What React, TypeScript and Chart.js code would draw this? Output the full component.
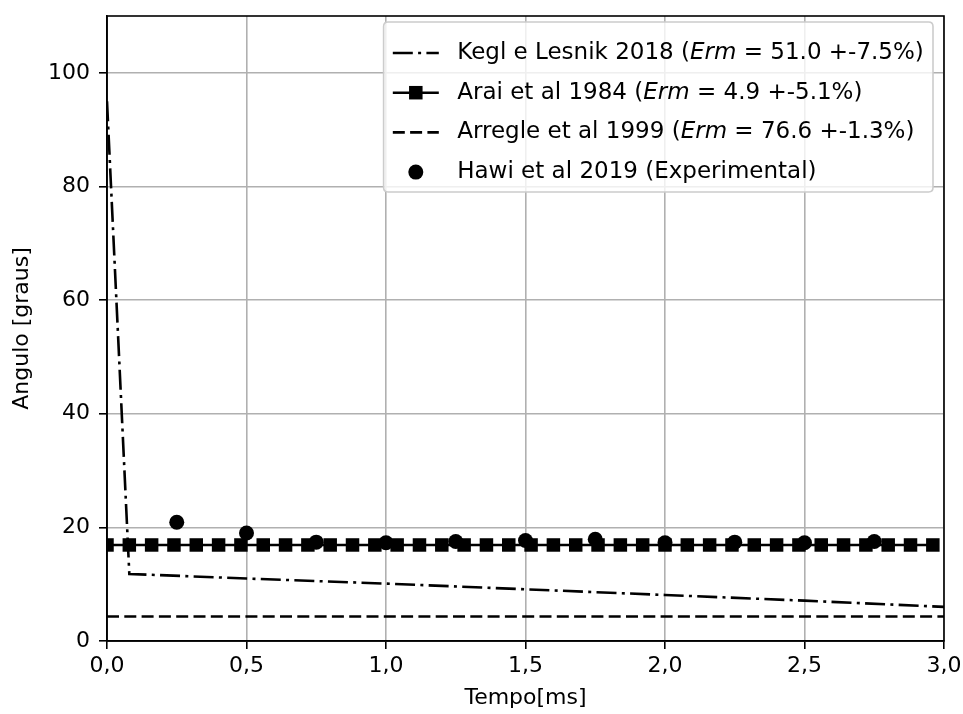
import React, { useEffect, useRef } from 'react';
import { Chart, registerables } from 'chart.js';
Chart.register(...registerables);

const keglTime = [0, 0.08, 0.5, 1.0, 1.5, 2.0, 2.5, 3.0];
const keglAngle = [95, 11.8, 11.0, 10.1, 9.1, 8.1, 7.1, 6.0];

const araiTime = [
  0, 0.08, 0.16, 0.24, 0.32, 0.4, 0.48, 0.56, 0.64, 0.72, 0.8, 0.88, 0.96,
  1.04, 1.12, 1.2, 1.28, 1.36, 1.44, 1.52, 1.6, 1.68, 1.76, 1.84, 1.92, 2.0,
  2.08, 2.16, 2.24, 2.32, 2.4, 2.48, 2.56, 2.64, 2.72, 2.8, 2.88, 2.96,
];
const araiAngle = [
  16.9, 16.9, 16.9, 16.9, 16.9, 16.9, 16.9, 16.9, 16.9, 16.9, 16.9, 16.9, 16.9,
  16.9, 16.9, 16.9, 16.9, 16.9, 16.9, 16.9, 16.9, 16.9, 16.9, 16.9, 16.9, 16.9,
  16.9, 16.9, 16.9, 16.9, 16.9, 16.9, 16.9, 16.9, 16.9, 16.9, 16.9, 16.9,
];

const arregleTime = [0, 3.0];
const arregleAngle = [4.3, 4.3];

const hawiTime = [0.25, 0.5, 0.75, 1.0, 1.25, 1.5, 1.75, 2.0, 2.25, 2.5, 2.75];
const hawiAngle = [20.9, 19.0, 17.4, 17.3, 17.5, 17.7, 17.9, 17.3, 17.4, 17.3, 17.5];

const xTickValues = [0, 0.5, 1.0, 1.5, 2.0, 2.5, 3.0];
const xTickLabels = ['0,0', '0,5', '1,0', '1,5', '2,0', '2,5', '3,0'];
const yTickValues = [0, 20, 40, 60, 80, 100];
const yTickLabels = ['0', '20', '40', '60', '80', '100'];

const xTitle = 'Tempo[ms]';
const yTitle = 'Angulo [graus]';

// legend label segments: [text, italic]
const legendKegl: [string, boolean][] = [['Kegl e Lesnik 2018 (', false], ['Erm', true], [' = 51.0 +-7.5%)', false]];
const legendArai: [string, boolean][] = [['Arai et al 1984 (', false], ['Erm', true], [' = 4.9 +-5.1%)', false]];
const legendArregle: [string, boolean][] = [['Arregle et al 1999 (', false], ['Erm', true], [' = 76.6 +-1.3%)', false]];
const legendHawi: [string, boolean][] = [['Hawi et al 2019 (Experimental)', false]];

const FONT = '"DejaVu Sans", Verdana, sans-serif';
const FS = 22;
const LFS = 23;
const LW = 2.6;
const DASH = [12, 5.3];
const DASHDOT = [20, 5.3, 3, 5.3];
const MARKER_SIDE = 13.5;
const CIRCLE_R = 7.5;

const pts = (xs: number[], ys: number[]) => xs.map((x, i) => ({ x, y: ys[i] }));

const framePlugin = {
  id: 'frameAndLegend',
  afterDatasetsDraw(chart: any) {
    const { ctx, chartArea } = chart;
    const { left, right, top, bottom } = chartArea;
    ctx.save();
    ctx.strokeStyle = '#000';
    ctx.lineWidth = 1.6;
    ctx.setLineDash([]);
    ctx.strokeRect(left, top, right - left, bottom - top);

    const items = [
      { segs: legendKegl, kind: 'dashdot' },
      { segs: legendArai, kind: 'square' },
      { segs: legendArregle, kind: 'dash' },
      { segs: legendHawi, kind: 'circle' },
    ];
    const pad = 0.4 * LFS;
    const handleLen = 2 * LFS;
    const textPad = 0.8 * LFS;
    const rowH = 39.7;
    const measure = (segs: [string, boolean][]) => {
      let w = 0;
      for (const [t, it] of segs) {
        ctx.font = `${it ? 'italic ' : ''}${LFS}px ${FONT}`;
        w += ctx.measureText(t).width;
      }
      return w;
    };
    const maxW = Math.max(...items.map((it) => measure(it.segs)));
    const boxW = pad + handleLen + textPad + maxW + pad;
    const boxH = 170;
    const bx1 = right - 0.5 * FS;
    const by0 = top + 6;
    const bx0 = bx1 - boxW;
    const r = 0.2 * FS;
    ctx.beginPath();
    ctx.moveTo(bx0 + r, by0);
    ctx.lineTo(bx1 - r, by0);
    ctx.quadraticCurveTo(bx1, by0, bx1, by0 + r);
    ctx.lineTo(bx1, by0 + boxH - r);
    ctx.quadraticCurveTo(bx1, by0 + boxH, bx1 - r, by0 + boxH);
    ctx.lineTo(bx0 + r, by0 + boxH);
    ctx.quadraticCurveTo(bx0, by0 + boxH, bx0, by0 + boxH - r);
    ctx.lineTo(bx0, by0 + r);
    ctx.quadraticCurveTo(bx0, by0, bx0 + r, by0);
    ctx.closePath();
    ctx.fillStyle = 'rgba(255,255,255,0.8)';
    ctx.fill();
    ctx.strokeStyle = '#cccccc';
    ctx.lineWidth = 1.6;
    ctx.stroke();

    items.forEach((it, i) => {
      const cy = by0 + 31 + i * rowH;
      const hx0 = bx0 + pad;
      const hx1 = hx0 + handleLen;
      ctx.strokeStyle = '#000';
      ctx.fillStyle = '#000';
      ctx.lineWidth = LW;
      ctx.lineCap = 'butt';
      if (it.kind !== 'circle') {
        ctx.setLineDash(it.kind === 'dash' ? DASH : it.kind === 'dashdot' ? DASHDOT : []);
        ctx.beginPath();
        ctx.moveTo(hx0, cy);
        ctx.lineTo(hx1, cy);
        ctx.stroke();
        ctx.setLineDash([]);
      }
      const mx = (hx0 + hx1) / 2;
      if (it.kind === 'square') {
        ctx.fillRect(mx - MARKER_SIDE / 2, cy - MARKER_SIDE / 2, MARKER_SIDE, MARKER_SIDE);
      } else if (it.kind === 'circle') {
        ctx.beginPath();
        ctx.arc(mx, cy, CIRCLE_R, 0, Math.PI * 2);
        ctx.fill();
      }
      let tx = hx1 + textPad;
      ctx.textBaseline = 'middle';
      ctx.textAlign = 'left';
      ctx.fillStyle = '#000';
      for (const [t, ital] of it.segs) {
        ctx.font = `${ital ? 'italic ' : ''}${LFS}px ${FONT}`;
        ctx.fillText(t, tx, cy);
        tx += ctx.measureText(t).width;
      }
    });
    ctx.restore();
  },
};

export default function App() {
  const ref = useRef<HTMLCanvasElement | null>(null);
  useEffect(() => {
    if (!ref.current) return;
    const chart = new Chart(ref.current, {
      type: 'scatter',
      data: {
        datasets: [
          {
            label: 'Kegl e Lesnik 2018',
            data: pts(keglTime, keglAngle),
            showLine: true,
            borderColor: '#000',
            borderWidth: LW,
            borderDash: DASHDOT,
            pointRadius: 0,
            tension: 0,
            clip: 0,
            order: 4,
          } as any,
          {
            label: 'Arai et al 1984',
            data: pts(araiTime, araiAngle),
            showLine: true,
            borderColor: '#000',
            borderWidth: LW,
            pointStyle: 'rect',
            pointRadius: MARKER_SIDE / 2 / Math.SQRT1_2,
            pointBackgroundColor: '#000',
            pointBorderWidth: 0,
            tension: 0,
            clip: 0,
            order: 3,
          },
          {
            label: 'Arregle et al 1999',
            data: pts(arregleTime, arregleAngle),
            showLine: true,
            borderColor: '#000',
            borderWidth: LW,
            borderDash: DASH,
            pointRadius: 0,
            tension: 0,
            clip: 0,
            order: 2,
          },
          {
            label: 'Hawi et al 2019 (Experimental)',
            data: pts(hawiTime, hawiAngle),
            showLine: false,
            pointStyle: 'circle',
            pointRadius: CIRCLE_R,
            pointBackgroundColor: '#000',
            pointBorderWidth: 0,
            clip: 0,
            order: 1,
          },
        ],
      },
      options: {
        animation: false,
        responsive: false,
        devicePixelRatio: 1,
        layout: { padding: { top: 16, right: 19, left: 0, bottom: 0 } },
        plugins: { legend: { display: false }, tooltip: { enabled: false } },
        scales: {
          x: {
            type: 'linear',
            min: 0,
            max: 3,
            afterBuildTicks: (s: any) => {
              s.ticks = xTickValues.map((v) => ({ value: v }));
            },
            afterFit: (s: any) => {
              s.height = 73;
              s.paddingLeft = 0;
              s.paddingRight = 0;
            },
            ticks: {
              callback: (v: any) => xTickLabels[xTickValues.indexOf(Number(v))] ?? '',
              color: '#000',
              font: { family: FONT, size: FS },
              padding: 4,
              maxRotation: 0,
              autoSkip: false,
            },
            grid: { color: '#b0b0b0', lineWidth: 1.6, tickColor: '#000', tickLength: 8, tickWidth: 1.6 },
            border: { display: true, color: '#000', width: 1.6 },
            title: {
              display: true,
              text: xTitle,
              color: '#000',
              font: { family: FONT, size: FS },
              padding: { top: 0, bottom: 3 },
            },
          },
          y: {
            type: 'linear',
            min: 0,
            max: 110,
            afterBuildTicks: (s: any) => {
              s.ticks = yTickValues.map((v) => ({ value: v }));
            },
            afterFit: (s: any) => {
              s.width = 107;
              s.paddingTop = 0;
              s.paddingBottom = 0;
            },
            ticks: {
              callback: (v: any) => yTickLabels[yTickValues.indexOf(Number(v))] ?? '',
              color: '#000',
              font: { family: FONT, size: FS },
              padding: 9,
              autoSkip: false,
            },
            grid: { color: '#b0b0b0', lineWidth: 1.6, tickColor: '#000', tickLength: 8, tickWidth: 1.6 },
            border: { display: true, color: '#000', width: 1.6 },
            title: {
              display: true,
              text: yTitle,
              color: '#000',
              font: { family: FONT, size: FS },
              padding: { top: 9, bottom: 0 },
            },
          },
        },
      },
      plugins: [framePlugin],
    });
    return () => chart.destroy();
  }, []);
  return (
    <div style={{ position: 'absolute', left: 0, top: 0, width: 963, height: 714, background: '#fff' }}>
      <canvas ref={ref} width={963} height={714} style={{ display: 'block' }} />
    </div>
  );
}
